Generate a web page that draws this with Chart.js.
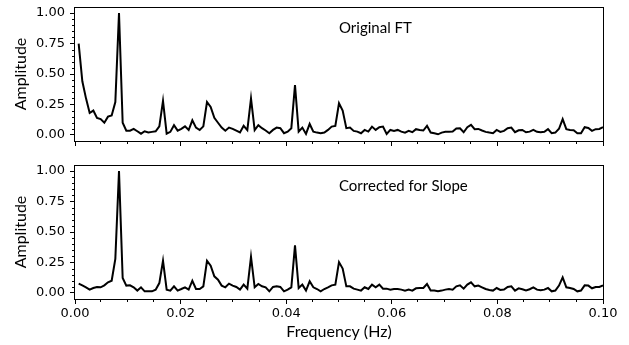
<!DOCTYPE html>
<html>
<head>
<meta charset="utf-8">
<script src="https://cdn.jsdelivr.net/npm/chart.js@4"></script>
<style>
body{margin:0;background:#fff;width:629px;height:345px;overflow:hidden;position:relative}
canvas{position:absolute;left:0}
#arriba{top:0}
#abajo{top:150px}
</style>
</head>
<body>
<canvas id="arriba" width="629" height="150" style="width:629px;height:150px"></canvas>
<canvas id="abajo" width="629" height="195" style="width:629px;height:195px"></canvas>
<script>
// ancho de cada bin de frecuencia (Hz)
const anchoBin = 1 / 1440

const amplitudOriginal = [
0.75,0.44,0.30,0.18,0.20,0.14,0.13,0.10,0.15,0.16,0.27,1.00,
0.10,0.035,0.035,0.05,0.03,0.01,0.03,0.02,0.025,0.03,0.07,0.28,
0.01,0.025,0.08,0.035,0.05,0.07,0.04,0.12,0.06,0.04,0.07,0.27,
0.23,0.14,0.10,0.06,0.035,0.06,0.05,0.035,0.02,0.075,0.04,0.30,
0.04,0.08,0.055,0.036,0.014,0.041,0.06,0.055,0.014,0.027,0.055,0.41,
0.027,0.06,0.008,0.09,0.027,0.019,0.014,0.019,0.041,0.068,0.074,0.26,
0.20,0.055,0.06,0.033,0.027,0.014,0.041,0.027,0.068,0.041,0.063,0.068,
0.008,0.041,0.033,0.041,0.027,0.019,0.033,0.022,0.047,0.041,0.036,0.074,
0.019,0.014,0.005,0.019,0.025,0.025,0.027,0.052,0.055,0.022,0.063,0.082,
0.047,0.049,0.036,0.025,0.019,0.014,0.041,0.025,0.033,0.055,0.06,0.022,
0.038,0.041,0.022,0.027,0.041,0.025,0.022,0.025,0.047,0.014,0.019,0.05,
0.13,0.047,0.041,0.038,0.014,0.014,0.063,0.057,0.033,0.047,0.049,0.063
]

const amplitudCorregida = [
0.076,0.062,0.046,0.027,0.04,0.049,0.046,0.062,0.087,0.10,0.28,1.00,
0.122,0.06,0.062,0.046,0.019,0.046,0.013,0.013,0.013,0.027,0.081,0.264,
0.027,0.019,0.054,0.019,0.032,0.046,0.027,0.10,0.032,0.032,0.054,0.264,
0.223,0.136,0.109,0.06,0.046,0.076,0.06,0.049,0.027,0.068,0.035,0.297,
0.046,0.073,0.054,0.046,0.013,0.049,0.054,0.049,0.013,0.027,0.046,0.39,
0.04,0.068,0.019,0.095,0.046,0.032,0.013,0.032,0.046,0.062,0.068,0.253,
0.20,0.054,0.054,0.035,0.027,0.019,0.046,0.032,0.068,0.046,0.068,0.035,
0.035,0.027,0.032,0.032,0.027,0.019,0.027,0.019,0.038,0.04,0.04,0.073,
0.019,0.019,0.013,0.019,0.027,0.032,0.027,0.054,0.062,0.035,0.068,0.087,
0.054,0.06,0.046,0.032,0.024,0.019,0.04,0.024,0.027,0.049,0.054,0.019,
0.038,0.03,0.021,0.03,0.046,0.027,0.021,0.027,0.04,0.013,0.019,0.06,
0.128,0.046,0.04,0.032,0.013,0.019,0.062,0.06,0.038,0.049,0.049,0.062
]

const ticksX = [0, 0.02, 0.04, 0.06, 0.08, 0.10]
const ticksY = [0, 0.25, 0.5, 0.75, 1.0]

const textoArriba = "Original FT"
const textoAbajo = "Corrected for Slope"

function puntos(valores){
  return valores.map((v, i) => ({x: (i + 1) * anchoBin, y: v}))
}

// ticks menores
const menoresX = []
for(let i = 0; i <= 20; i++){ if(i % 4 != 0) menoresX.push(i * 0.005) }
const menoresY = []
for(let i = 0; i <= 20; i++){ if(i % 5 != 0) menoresY.push(i * 0.05) }

function sinPadding(s){
  s.paddingTop = 0
  s.paddingBottom = 0
  s.paddingLeft = 0
  s.paddingRight = 0
}

const marco = {
  id: "marco",
  afterDraw(chart, args, opts){
    const ctx = chart.ctx
    const a = chart.chartArea
    const x = chart.scales.x
    const y = chart.scales.y
    ctx.save()
    ctx.strokeStyle = "#000"
    ctx.lineWidth = 1
    ctx.strokeRect(Math.round(a.left) - 0.5, Math.round(a.top) + 0.5, Math.round(a.right - a.left) + 1, Math.round(a.bottom - a.top))
    ctx.beginPath()
    menoresX.forEach(v => {
      let px = Math.round(x.getPixelForValue(v)) - 0.5
      ctx.moveTo(px, a.bottom)
      ctx.lineTo(px, a.bottom + 3)
    })
    menoresY.forEach(v => {
      let py = Math.round(y.getPixelForValue(v)) + 0.5
      ctx.moveTo(a.left, py)
      ctx.lineTo(a.left - 3, py)
    })
    ctx.stroke()
    ctx.font = "15px Lato"
    ctx.fillStyle = "#000"
    ctx.textBaseline = "middle"
    ctx.textAlign = "left"
    ctx.fillText(opts.texto, x.getPixelForValue(0.05), y.getPixelForValue(0.875))
    ctx.restore()
  }
}

function crearGrafico(id, valores, texto, abajo){
  const alto = abajo ? 46 : 9
  return new Chart(document.getElementById(id), {
    type: "line",
    data: {
      datasets: [{
        data: puntos(valores),
        borderColor: "#000",
        borderWidth: 2,
        pointRadius: 0,
        tension: 0,
        fill: false
      }]
    },
    options: {
      responsive: false,
      animation: false,
      devicePixelRatio: 1,
      layout: { padding: { left: 0, right: 26, top: abajo ? 15 : 7, bottom: 0 } },
      plugins: {
        legend: { display: false },
        tooltip: { enabled: false },
        marco: { texto: texto }
      },
      scales: {
        x: {
          type: "linear",
          min: 0,
          max: 0.1,
          afterBuildTicks: s => { s.ticks = ticksX.map(v => ({value: v})) },
          afterFit: s => { s.height = alto; sinPadding(s) },
          grid: { drawOnChartArea: false, drawTicks: true, tickLength: 5, tickColor: "#000", tickWidth: 1 },
          border: { display: false },
          ticks: {
            display: abajo,
            padding: 2,
            maxRotation: 0,
            color: "#000",
            font: { family: "DejaVu Sans", size: 13 },
            callback: v => v.toFixed(2)
          },
          title: {
            display: abajo,
            text: "Frequency (Hz)",
            color: "#000",
            font: { family: "Lato", size: 16 },
            padding: { top: 0, bottom: 4 }
          }
        },
        y: {
          min: -0.05,
          max: 1.05,
          afterBuildTicks: s => { s.ticks = ticksY.map(v => ({value: v})) },
          afterFit: s => { s.width = 75; sinPadding(s) },
          grid: { drawOnChartArea: false, drawTicks: true, tickLength: 5, tickColor: "#000", tickWidth: 1 },
          border: { display: false },
          ticks: {
            padding: 5,
            color: "#000",
            font: { family: "DejaVu Sans", size: 13, lineHeight: 1 },
            callback: v => v.toFixed(2)
          },
          title: {
            display: true,
            text: "Amplitude",
            color: "#000",
            font: { family: "Lato", size: 16 },
            padding: { top: 11, bottom: 0 }
          }
        }
      }
    },
    plugins: [marco]
  })
}

crearGrafico("arriba", amplitudOriginal, textoArriba, false)
crearGrafico("abajo", amplitudCorregida, textoAbajo, true)
</script>
</body>
</html>
